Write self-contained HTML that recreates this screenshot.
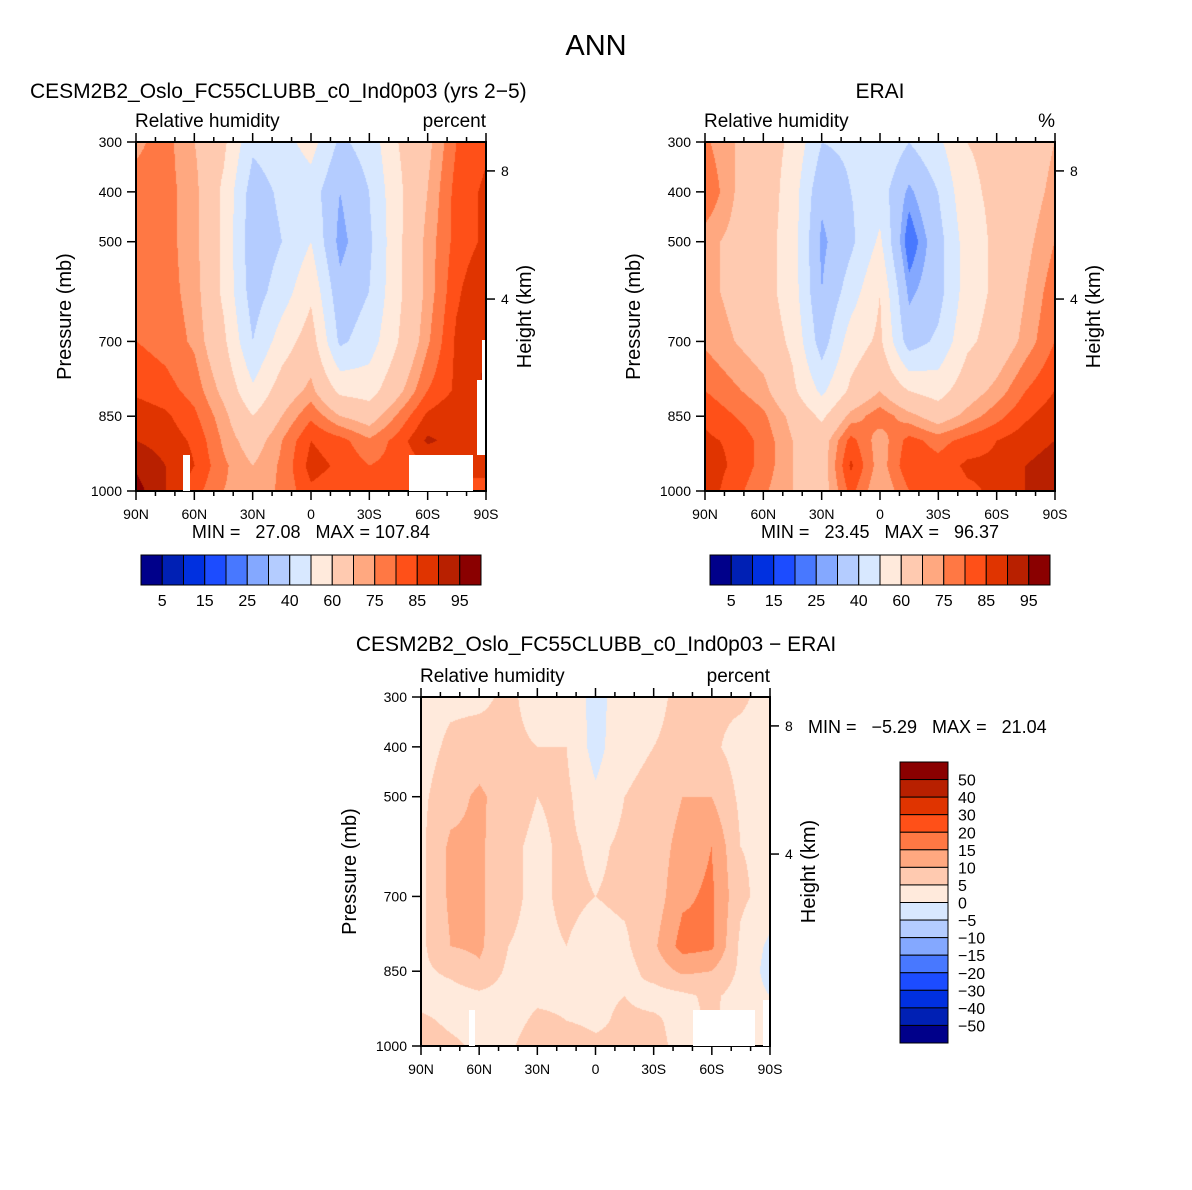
<!DOCTYPE html>
<html><head><meta charset="utf-8"><style>
body{margin:0;background:#fff;width:1192px;height:1190px;position:relative;overflow:hidden;font-family:"Liberation Sans",sans-serif}
canvas{position:absolute}
svg{position:absolute;left:0;top:0}
text{font-family:"Liberation Sans",sans-serif;fill:#000;white-space:pre}
</style></head><body>
<canvas id="c1" width="350" height="349" style="left:136px;top:142px"></canvas>
<canvas id="c2" width="350" height="349" style="left:705px;top:142px"></canvas>
<canvas id="c3" width="349" height="349" style="left:421px;top:697px"></canvas>
<svg id="ov" width="1192" height="1190"></svg>
<script>
const lats=[90,75,60,45,30,15,0,-15,-30,-45,-60,-75,-90];
const levels=[300,400,500,600,700,800,850,900,950,1000];
const model=[
[74,77,70,62,42,46,54,38,44,60,68,80,84],
[77,77,72,58,35,42,45,30,40,58,70,82,86],
[77,77,72,58,33,40,50,27,38,58,72,82,86],
[77,77,73,58,35,45,58,33,40,58,72,84,90],
[80,78,74,62,40,55,65,38,45,60,74,86,90],
[84,82,78,68,52,65,72,58,56,68,80,86,91],
[88,86,81,72,60,70,79,70,66,76,86,90,90],
[90,88,84,74,66,75,85,82,76,82,91,88,88],
[94,90,85,76,70,76,87,84,80,82,84,86,86],
[97,90,82,75,72,76,84,82,80,80,82,84,84]];
const erai=[
[76,70,65,58,40,42,50,40,48,60,62,65,70],
[80,70,66,55,32,40,45,28,40,58,62,66,72],
[72,68,64,55,28,38,52,20,36,55,62,68,75],
[72,68,64,55,30,45,60,28,36,55,62,70,78],
[74,70,66,58,35,55,62,35,42,58,64,72,80],
[80,76,72,62,48,62,70,60,56,66,72,80,85],
[84,80,76,68,58,72,78,72,66,72,78,84,88],
[86,84,78,70,66,82,72,82,78,82,85,88,90],
[88,84,78,70,66,86,72,84,82,86,86,90,92],
[88,82,76,70,66,82,70,80,80,84,86,90,92]];
const diff=[
[3,4,4,6,3,4,-2,3,4,6,6,6,3],
[3,6,7,6,5,5,-2,4,5,6,6,3,3],
[4,8,11,7,5,6,1,5,6,10,10,4,4],
[4,11,11,6,4,6,4,6,7,12,15,5,4],
[4,11,11,6,4,6,5,6,7,14,16,6,3],
[4,10,11,5,4,5,3,4,9,17,16,4,-1],
[4,6,9,4,3,4,2,3,7,11,10,4,-2],
[3,3,4,3,4,4,4,5,3,4,6,3,0],
[6,4,3,3,6,5,4,6,6,3,6,2,0],
[8,6,4,4,8,8,6,6,7,3,4,2,0]];
const rhLevels=[5,10,15,20,25,30,40,50,60,70,75,80,85,90,95];
const rhLabels=["5","15","25","40","60","75","85","95"];
const dLevels=[-50,-40,-30,-20,-15,-10,-5,0,5,10,15,20,30,40,50];
const dLabels=["50","40","30","20","15","10","5","0","\u22125","\u221210","\u221215","\u221220","\u221230","\u221240","\u221250"];
const stats=[["27.08","107.84"],["23.45","96.37"],["\u22125.29","21.04"]];
const colors=["#00008a","#0020b4","#0030e0","#1c4cff","#4878ff","#84a8ff","#b4ccff","#d8e8ff","#ffeadc","#ffcab0","#ffa880","#ff7844","#ff5018","#e03400","#b82000","#8a0000"];

function interp(grid,lat,p){
  let fi=(90-lat)/15; let i=Math.min(11,Math.floor(fi)); let tx=fi-i;
  let j=0; while(j<levels.length-2 && p>levels[j+1]) j++;
  let ty=(p-levels[j])/(levels[j+1]-levels[j]);
  const a=grid[j][i],b=grid[j][i+1],c=grid[j+1][i],d=grid[j+1][i+1];
  return a*(1-tx)*(1-ty)+b*tx*(1-ty)+c*(1-tx)*ty+d*tx*ty;
}
function hex(h){return [parseInt(h.substr(1,2),16),parseInt(h.substr(3,2),16),parseInt(h.substr(5,2),16)];}
const rgb=colors.map(hex);
function fill(id,grid,lv){
  const cv=document.getElementById(id),ctx=cv.getContext('2d');
  const W=cv.width,H=cv.height,img=ctx.createImageData(W,H);
  for(let y=0;y<H;y++){const p=300+700*y/(H-1);
    for(let x=0;x<W;x++){const lat=90-180*x/(W-1);
      const v=interp(grid,lat,p);let k=0;while(k<lv.length&&v>=lv[k])k++;
      const c=rgb[k],o=(y*W+x)*4;img.data[o]=c[0];img.data[o+1]=c[1];img.data[o+2]=c[2];img.data[o+3]=255;}}
  ctx.putImageData(img,0,0);
}
fill('c1',model,rhLevels);fill('c2',erai,rhLevels);fill('c3',diff,dLevels);

const NS="http://www.w3.org/2000/svg",ov=document.getElementById('ov');
function el(tag,attrs,txt){const e=document.createElementNS(NS,tag);for(const k in attrs)e.setAttribute(k,attrs[k]);if(txt!==undefined)e.textContent=txt;ov.appendChild(e);return e;}
function T(x,y,s,size,anchor,name,rot){const e=el('text',{x:x,y:y,'font-size':size,'text-anchor':anchor||'start'},s);
  if(rot)e.setAttribute('transform','rotate(-90 '+x+' '+y+')');
  
  return e;}

function panel(L,Tp,W,H,pre,right){
  const xs=lat=>L+(90-lat)/180*W, ys=p=>Tp+(p-300)/700*H;
  const g=el('rect',{x:L,y:Tp,width:W,height:H,fill:'none',stroke:'#000','stroke-width':2});
  
  
  for(let lat=90;lat>=-90;lat-=10){const x=xs(lat),maj=lat%30===0;const len=maj?9:5;
    el('line',{x1:x,y1:Tp,x2:x,y2:Tp-len,stroke:'#000','stroke-width':1.5});
    el('line',{x1:x,y1:Tp+H,x2:x,y2:Tp+H+len,stroke:'#000','stroke-width':1.5});
    if(maj){const lab=lat===0?'0':Math.abs(lat)+(lat>0?'N':'S');T(x,Tp+H+28,lab,14,'middle',pre+'-x-tick-label');}}
  [300,400,500,700,850,1000].forEach(p=>{const y=ys(p);el('line',{x1:L,y1:y,x2:L-9,y2:y,stroke:'#000','stroke-width':1.5});
    T(L-14,y+5,String(p),14,'end',pre+'-y-tick-label');});
  [[358,'8'],[615,'4']].forEach(a=>{const y=ys(a[0]);el('line',{x1:L+W,y1:y,x2:L+W+9,y2:y,stroke:'#000','stroke-width':1.5});
    T(L+W+15,y+5,a[1],14,'start',pre+'-height-tick-label');});
  T(L-65,Tp+H/2,'Pressure (mb)',20,'middle',pre+'-y-axis-title',true);
  T(L+W+45,Tp+H/2,'Height (km)',20,'middle',pre+'-height-axis-title',true);
  T(L-1,Tp-15,'Relative humidity',19,'start',pre+'-variable-label');
  T(L+W,Tp-15,right,19,'end',pre+'-units-label');
}
T(596,55,'ANN',29,'middle','main-title');
T(30,98,'CESM2B2_Oslo_FC55CLUBB_c0_Ind0p03 (yrs 2\u22125)',21,'start','model-panel-title');
T(880,98,'ERAI',21,'middle','erai-panel-title');
T(596,651,'CESM2B2_Oslo_FC55CLUBB_c0_Ind0p03 \u2212 ERAI',21,'middle','diff-panel-title');
panel(136,142,350,349,'model','percent');
panel(705,142,350,349,'erai','%');
panel(421,697,349,349,'diff','percent');
[[183,455,7,36],[409,455,64,36],[482,340,3,115],[477,380,8,75],[469,1010,6,36],[693,1010,62,36],[763,1000,6,46]].forEach(r=>{
  const e=el('rect',{x:r[0],y:r[1],width:r[2],height:r[3],fill:'#fff'});
  
  });
T(311,538,'MIN =   '+stats[0][0]+'   MAX = '+stats[0][1],18,'middle','model-min-max');
T(880,538,'MIN =   '+stats[1][0]+'   MAX =   '+stats[1][1],18,'middle','erai-min-max');
T(808,733,'MIN =   '+stats[2][0]+'   MAX =   '+stats[2][1],18,'start','diff-min-max');
function hbar(x0,pre){const w=340/16;
  colors.forEach((c,i)=>{const r=el('rect',{x:x0+i*w,y:555,width:w,height:30,fill:c,stroke:'#000','stroke-width':1});
    
    });
  rhLabels.forEach((s,k)=>T(x0+(2*k+1)*w,606,s,16,'middle',pre+'-colorbar-label'));}
hbar(141,'model');hbar(710,'erai');
{const h=281/16;
  colors.slice().reverse().forEach((c,i)=>{const r=el('rect',{x:900,y:762+i*h,width:48,height:h,fill:c,stroke:'#000','stroke-width':1});
    
    });
  dLabels.forEach((s,k)=>T(958,762+(k+1)*h+6,s,16,'start','diff-colorbar-label'));}
</script>
</body></html>
